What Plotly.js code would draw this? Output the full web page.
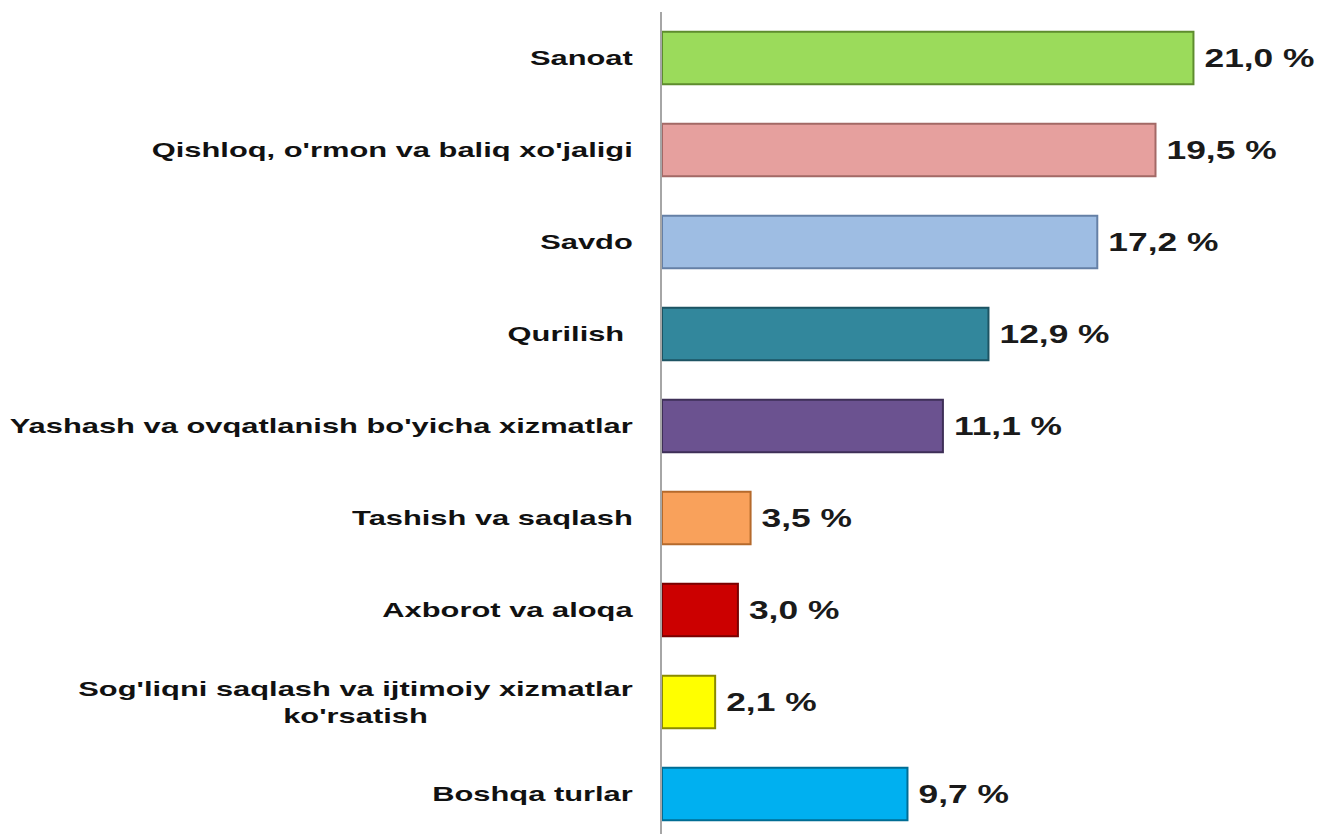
<!DOCTYPE html>
<html>
<head>
<meta charset="utf-8">
<script src="https://cdn.plot.ly/plotly-3.0.1.min.js"></script>
<style>
html,body{margin:0;padding:0;background:#fff;overflow:hidden;}
#chart{width:1320px;height:840px;}
</style>
</head>
<body>
<div id="chart"></div>
<script>
const categories = [
  "Sanoat",
  "Qishloq, o'rmon va baliq xo'jaligi",
  "Savdo",
  "Qurilish ",
  "Yashash va ovqatlanish bo'yicha xizmatlar",
  "Tashish va saqlash",
  "Axborot va aloqa",
  "Sog'liqni saqlash va ijtimoiy xizmatlar<br>ko'rsatish",
  "Boshqa turlar"
];
const values = [21.0, 19.5, 17.2, 12.9, 11.1, 3.5, 3.0, 2.1, 9.7];
const colors = ["#9BDB5B", "#E6A09E", "#9EBDE3", "#32879C", "#6B5290", "#F9A15B", "#CC0000", "#FFFF00", "#00B0F0"];
const edgeColors = ["#5E8C2E", "#A36966", "#6580A6", "#1D5463", "#3E2F57", "#B56A2C", "#7A0000", "#8A8A00", "#006D94"];
const valueLabels = values.map(v => v.toFixed(1).replace(".", ",") + " %");

const trace = {
  type: "bar",
  orientation: "h",
  y: categories,
  x: values,
  text: valueLabels,
  textposition: "outside",
  cliponaxis: false,
  textfont: {family: "Liberation Sans, Arial, sans-serif", size: 26, color: "#1a1a1a", weight: "bold"},
  marker: {color: colors, line: {color: edgeColors, width: 2}},
  width: 0.57,
  hoverinfo: "skip"
};

const layout = {
  width: 1320,
  height: 840,
  margin: {l: 662, r: 0, t: 12, b: 0},
  paper_bgcolor: "#ffffff",
  plot_bgcolor: "#ffffff",
  showlegend: false,
  xaxis: {
    range: [0, 26.0],
    showgrid: false,
    zeroline: false,
    showticklabels: false,
    showline: false,
    ticks: ""
  },
  yaxis: {
    autorange: "reversed",
    showgrid: false,
    zeroline: false,
    showline: true,
    linecolor: "#A6A6A6",
    linewidth: 2,
    ticks: "",
    ticklabelstandoff: 23,
    tickfont: {family: "Liberation Sans, Arial, sans-serif", size: 21, color: "#111111", weight: "bold"}
  }
};

function stretch(el, sx, anchorRight, shift) {
  const bb = el.getBBox();
  const x0 = anchorRight ? bb.x + bb.width : bb.x;
  const tr = el.getAttribute("transform") || "";
  el.setAttribute("transform", tr + " translate(" + (x0 + (shift || 0)) + ",0) scale(" + sx + ",1) translate(" + (-x0) + ",0)");
}

Plotly.newPlot("chart", [trace], layout, {staticPlot: true, displayModeBar: false}).then(function () {
  document.querySelectorAll("#chart .ytick text").forEach(function (t) {
    const lines = t.querySelectorAll("tspan.line");
    if (lines.length > 1) {
      const bb = t.getBBox();
      const cx = bb.x + bb.width / 2;
      t.setAttribute("text-anchor", "middle");
      t.style.textAnchor = "middle";
      t.setAttribute("x", cx);
      lines.forEach(function (l) { l.setAttribute("x", cx); });
    }
    stretch(t, 1.47, true, 0);
  });
  document.querySelectorAll("#chart text.bartext").forEach(function (t) {
    stretch(t, 1.36, false, 8);
  });
});
</script>
</body>
</html>
